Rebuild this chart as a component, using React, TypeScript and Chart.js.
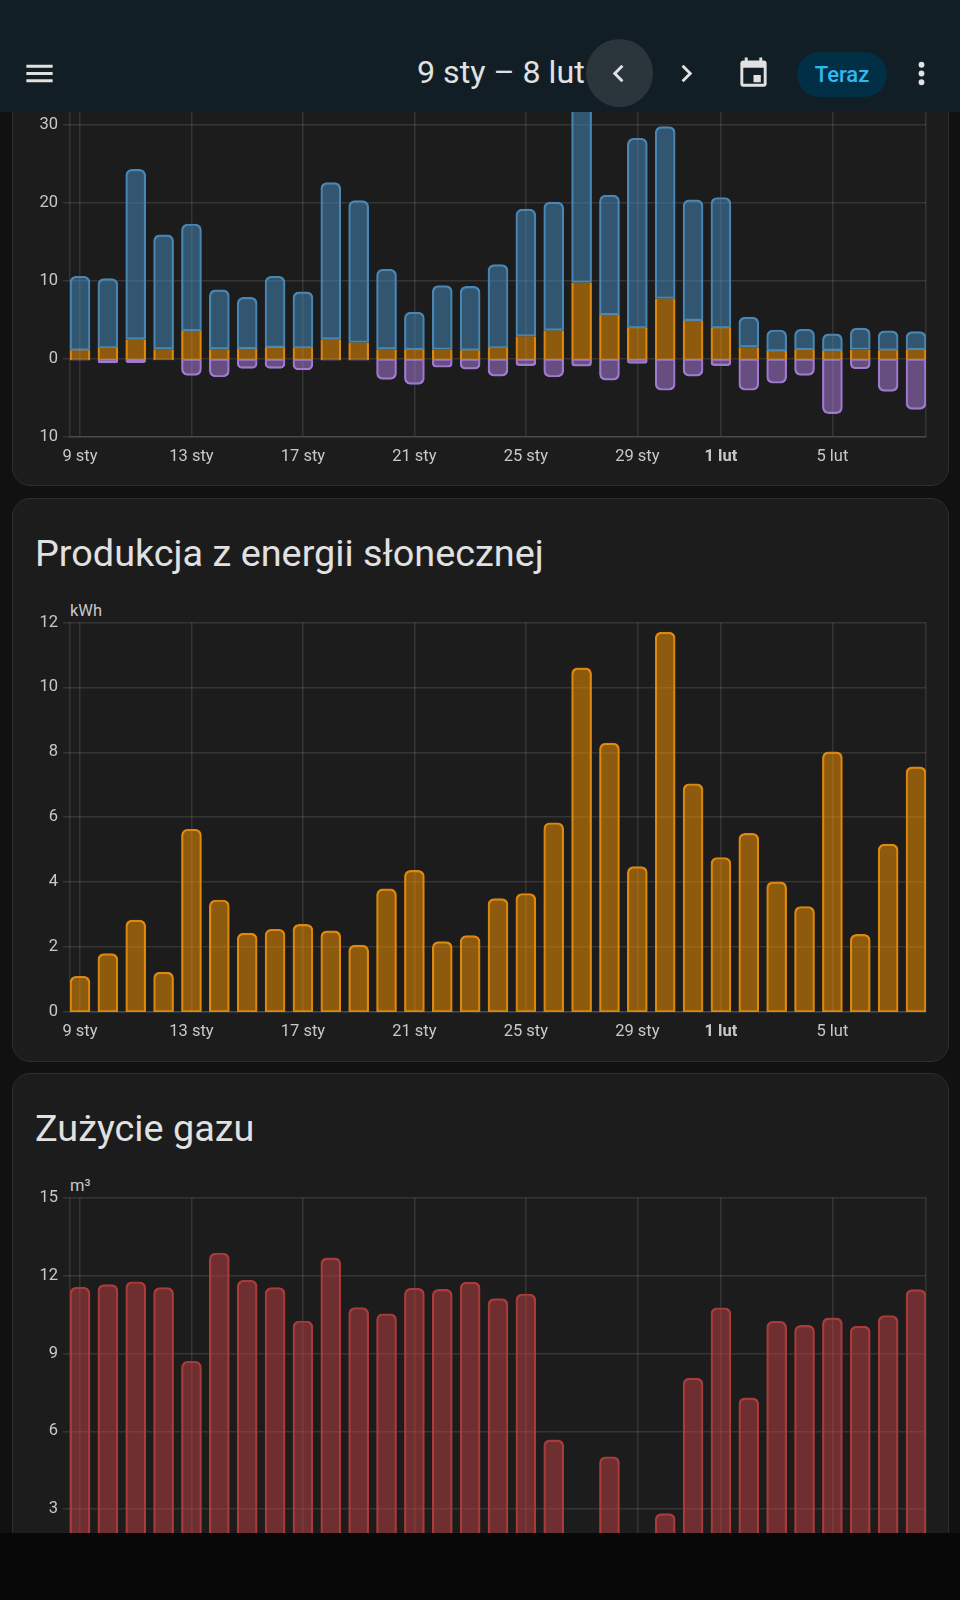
import React, { useRef, useEffect } from 'react';
import { Chart, registerables } from 'chart.js';

Chart.register(...registerables);

const FONT = 'Roboto, sans-serif';

// day positions of the x axis ticks (0 = 9 sty)
const tickDays = [0, 4, 8, 12, 16, 20, 23, 27];
const tickLabels = ['9 sty', '13 sty', '17 sty', '21 sty', '25 sty', '29 sty', '1 lut', '5 lut'];
const dayCount = 31;

const gridImport = [9.5, 8.9, 21.8, 14.65, 13.7, 7.6, 6.6, 9.15, 7.2, 20.1, 18.2, 10.25, 4.85, 8.2, 8.2, 10.7, 16.3, 16.45, 24.3, 15.35, 24.35, 22.05, 15.5, 16.75, 3.85, 2.7, 2.65, 2.15, 2.75, 2.5, 2.35];
const solarUsed = [1.12, 1.42, 2.52, 1.27, 3.62, 1.27, 1.32, 1.47, 1.42, 2.52, 2.12, 1.27, 1.17, 1.22, 1.12, 1.42, 2.92, 3.67, 9.82, 5.67, 3.97, 7.77, 4.92, 3.97, 1.52, 1.02, 1.17, 1.07, 1.22, 1.12, 1.17];
const gridExport = [-0.15, -0.5, -0.45, -0.1, -2.1, -2.3, -1.2, -1.2, -1.4, -0.15, -0.15, -2.6, -3.25, -1.05, -1.3, -2.2, -0.85, -2.3, -0.9, -2.7, -0.55, -4.0, -2.2, -0.85, -4.0, -3.1, -2.1, -7.0, -1.25, -4.15, -6.45];
const solarProduction = [1.1, 1.8, 2.83, 1.23, 5.63, 3.45, 2.43, 2.55, 2.7, 2.5, 2.06, 3.79, 4.36, 2.17, 2.35, 3.49, 3.65, 5.83, 10.6, 8.28, 4.48, 11.7, 7.03, 4.76, 5.5, 4.01, 3.25, 8.01, 2.39, 5.17, 7.55];
const gasUsage = [11.55, 11.65, 11.76, 11.54, 8.7, 12.87, 11.82, 11.54, 10.25, 12.68, 10.77, 10.53, 11.51, 11.47, 11.75, 11.11, 11.29, 5.67, 0, 5.02, 0, 2.83, 8.05, 10.76, 7.29, 10.24, 10.08, 10.37, 10.05, 10.46, 11.46];

const toPoints = (values: number[]) => values.map((y, x) => ({ x, y }));

const roundTop = { topLeft: 6, topRight: 6, bottomLeft: 0, bottomRight: 0 };
const roundBottom = { topLeft: 0, topRight: 0, bottomLeft: 6, bottomRight: 6 };

const barDefaults = {
  barThickness: 20,
  borderWidth: 1.5,
  borderSkipped: false,
};

const usageDatasets = [
  {
    ...barDefaults,
    label: 'Solar',
    data: toPoints(solarUsed),
    backgroundColor: 'rgba(255, 152, 0, 0.5)',
    borderColor: '#d9860f',
    borderWidth: { top: 0, right: 1.5, bottom: 0, left: 1.5 },
    borderRadius: 0,
  },
  {
    ...barDefaults,
    label: 'Grid',
    data: toPoints(gridImport),
    backgroundColor: 'rgba(72, 143, 194, 0.5)',
    borderColor: '#4885b3',
    borderRadius: roundTop,
  },
  {
    ...barDefaults,
    label: 'Return',
    data: toPoints(gridExport),
    backgroundColor: 'rgba(176, 130, 228, 0.5)',
    borderColor: '#9d78cc',
    borderRadius: roundBottom,
  },
];

const solarDatasets = [
  {
    ...barDefaults,
    label: 'Solar',
    data: toPoints(solarProduction),
    backgroundColor: 'rgba(255, 152, 0, 0.5)',
    borderColor: '#d9860f',
    borderRadius: roundTop,
  },
];

const gasDatasets = [
  {
    ...barDefaults,
    label: 'Gas',
    data: toPoints(gasUsage),
    backgroundColor: 'rgba(194, 66, 68, 0.5)',
    borderColor: '#a83a3a',
    borderRadius: roundTop,
  },
];

interface BarChartProps {
  datasets: any[];
  top: number;
  height: number;
  plotTop: number;
  min: number;
  max: number;
  step: number;
}

const BarChart: React.FC<BarChartProps> = ({ datasets, top, height, plotTop, min, max, step }) => {
  const chartRef = useRef<HTMLCanvasElement>(null);

  useEffect(() => {
    if (!chartRef.current) return;
    const gridColor = 'rgba(255, 255, 255, 0.11)';
    const xMin = -10 / 27.87;
    const xMax = dayCount - 1 + 10 / 27.87;

    const chart = new Chart(chartRef.current, {
      type: 'bar',
      data: { datasets },
      options: {
        responsive: false,
        animation: false,
        layout: { padding: { top: plotTop, right: 34, left: 0, bottom: 0 } },
        plugins: { legend: { display: false }, tooltip: { enabled: false } },
        scales: {
          x: {
            type: 'linear',
            stacked: true,
            offset: false,
            min: xMin,
            max: xMax,
            afterBuildTicks: (scale: any) => {
              // the outer two ticks only give the frame lines of the plot
              scale.ticks = [xMin, ...tickDays, xMax].map((value) => ({ value }));
            },
            afterFit: (scale: any) => {
              scale.height = 40;
            },
            grid: { offset: false, color: gridColor, lineWidth: 1.5, drawTicks: false },
            border: { color: gridColor, width: 1.5 },
            ticks: {
              autoSkip: false,
              maxRotation: 0,
              padding: 10,
              color: '#c8c8c8',
              font: (ctx: any) => ({
                family: FONT,
                size: 16.5,
                weight: ctx.tick && ctx.tick.value === tickDays[6] ? 'bold' : 'normal',
              }),
              callback: (value: any) => {
                const i = tickDays.indexOf(value);
                return i >= 0 ? tickLabels[i] : '';
              },
            },
          },
          y: {
            stacked: true,
            min,
            max,
            afterFit: (scale: any) => {
              scale.width = 70;
              // bars would otherwise stop half a grid line short of zero
              scale.getLineWidthForValue = () => 0;
            },
            grid: { color: gridColor, lineWidth: 1.5, tickLength: 7 },
            border: { display: false },
            ticks: {
              stepSize: step,
              padding: 5,
              color: '#c8c8c8',
              font: { family: FONT, size: 16.5 },
              callback: (value: any) => String(Math.abs(Number(value))),
            },
          },
        },
      },
    } as any);

    return () => chart.destroy();
  }, [datasets, plotTop, min, max, step]);

  return (
    <canvas
      ref={chartRef}
      width={960}
      height={height}
      style={{ position: 'absolute', left: 0, top, width: 960, height }}
    />
  );
};

const Icon: React.FC<{ path: string; cx: number; size?: number; color?: string }> = ({ path, cx, size = 35, color = '#e1e1e1' }) => (
  <svg
    viewBox="0 0 24 24"
    width={size}
    height={size}
    style={{ position: 'absolute', left: cx - size / 2, top: 73 - size / 2 }}
  >
    <path d={path} fill={color} />
  </svg>
);

const cardStyle = (top: number, height: number): React.CSSProperties => ({
  position: 'absolute',
  left: 11.5,
  top,
  width: 937,
  height,
  boxSizing: 'border-box',
  background: '#1c1c1c',
  border: '1px solid #2e2e2e',
  borderRadius: 18,
});

const titleStyle = (top: number): React.CSSProperties => ({
  position: 'absolute',
  left: 35,
  top,
  fontFamily: FONT,
  fontSize: 37.8,
  lineHeight: '50px',
  color: '#e1e1e1',
  whiteSpace: 'nowrap',
});

const unitStyle = (top: number): React.CSSProperties => ({
  position: 'absolute',
  left: 70,
  top,
  fontFamily: FONT,
  fontSize: 16.5,
  lineHeight: '20px',
  color: '#c8c8c8',
});

const App: React.FC = () => (
  <div style={{ position: 'absolute', left: 0, top: 0, width: 960, height: 1600, overflow: 'hidden', background: '#111111' }}>
    <div style={cardStyle(-40, 526)} />
    <div style={cardStyle(498, 564)} />
    <div style={cardStyle(1073, 600)} />

    <BarChart datasets={usageDatasets} top={0} height={477} plotTop={47.2} min={-10} max={40} step={10} />

    <div style={titleStyle(528)}>Produkcja z energii słonecznej</div>
    <div style={unitStyle(601)}>kWh</div>
    <BarChart datasets={solarDatasets} top={590} height={462} plotTop={32.4} min={0} max={12} step={2} />

    <div style={titleStyle(1103)}>Zużycie gazu</div>
    <div style={unitStyle(1176)}>m³</div>
    <BarChart datasets={gasDatasets} top={1165} height={462} plotTop={32.7} min={0} max={15} step={3} />

    <div style={{ position: 'absolute', left: 0, top: 0, width: 960, height: 112, background: '#111e25' }}>
      <Icon cx={39} path="M3,6H21V8H3V6M3,11H21V13H3V11M3,16H21V18H3V16Z" />
      <div style={{ position: 'absolute', left: 417, top: 50, fontFamily: FONT, fontSize: 32.2, lineHeight: '44px', color: '#e1e1e1', whiteSpace: 'nowrap' }}>9 sty – 8 lut</div>
      <div style={{ position: 'absolute', left: 586, top: 39, width: 67, height: 68, borderRadius: '50%', background: '#2b363c' }} />
      <Icon cx={618} path="M15.41,16.58L10.83,12L15.41,7.41L14,6L8,12L14,18L15.41,16.58Z" />
      <Icon cx={686} path="M8.59,16.58L13.17,12L8.59,7.41L10,6L16,12L10,18L8.59,16.58Z" />
      <Icon cx={753} path="M19,3H18V1H16V3H8V1H6V3H5C3.89,3 3,3.9 3,5V19A2,2 0 0,0 5,21H19A2,2 0 0,0 21,19V5A2,2 0 0,0 19,3M19,19H5V8H19V19M12,13H17V18H12V13Z" />
      <div style={{ position: 'absolute', left: 797, top: 52, width: 90, height: 45, borderRadius: 23, background: '#012f45', color: '#2fb9f2', fontFamily: FONT, fontWeight: 500, fontSize: 22, lineHeight: '45px', textAlign: 'center' }}>Teraz</div>
      <Icon cx={921} path="M12,16A2,2 0 0,1 14,18A2,2 0 0,1 12,20A2,2 0 0,1 10,18A2,2 0 0,1 12,16M12,10A2,2 0 0,1 14,12A2,2 0 0,1 12,14A2,2 0 0,1 10,12A2,2 0 0,1 12,10M12,4A2,2 0 0,1 14,6A2,2 0 0,1 12,8A2,2 0 0,1 10,6A2,2 0 0,1 12,4Z" />
    </div>

    <div style={{ position: 'absolute', left: 0, top: 1533, width: 960, height: 67, background: '#080808' }} />
  </div>
);

export default App;
